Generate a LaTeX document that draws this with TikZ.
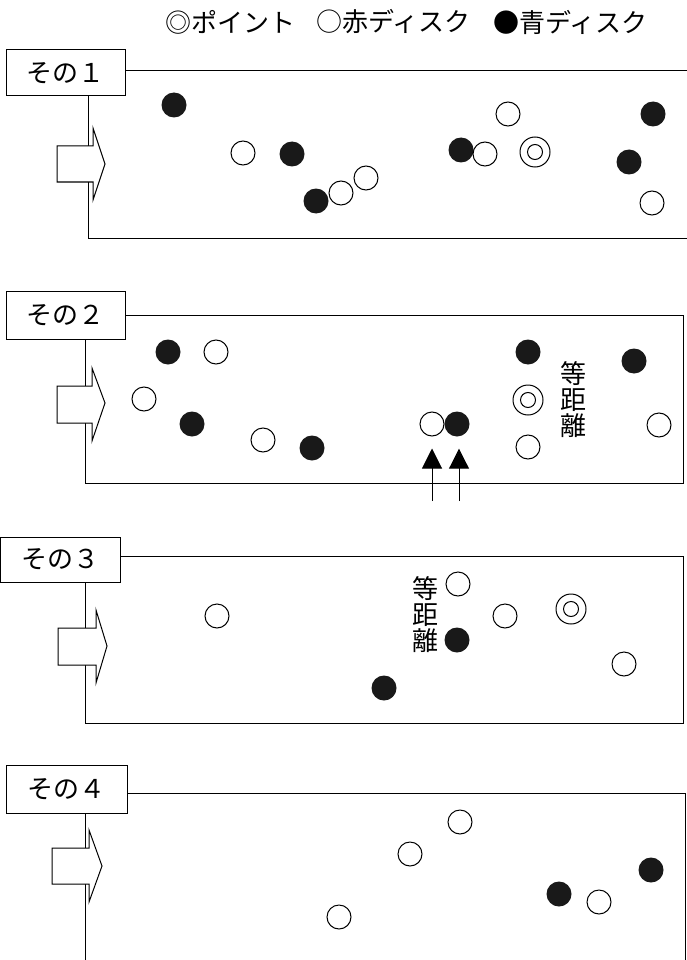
\documentclass[tikz,border=0pt]{standalone}
\usepackage{fontspec}
\setmainfont{Noto Sans CJK JP}
\usetikzlibrary{arrows.meta}
\begin{document}
\begin{tikzpicture}[x=1pt,y=-1pt,
  panel/.style={draw, line width=1pt},
  labelbox/.style={draw, fill=white, line width=1pt, inner sep=0, font=\fontsize{26}{26}\selectfont},
  reddisk/.style={circle, draw, fill=white, line width=1pt, minimum size=24pt, inner sep=0},
  bluedisk/.style={circle, fill=black!90, minimum size=25pt, inner sep=0},
  pointdisk/.style={circle, draw, fill=white, line width=1pt, minimum size=30pt, inner sep=0},
  entry/.style={anchor=west, inner sep=0, font=\fontsize{26}{26}\selectfont},
  vtext/.style={align=center, inner sep=0, font=\fontsize{26}{26}\selectfont},
  bigarrow/.style={draw, fill=white, line width=1pt, line join=miter},
  push/.style={-{Triangle[width=20pt,length=20pt]}, line width=1pt}
]
\useasboundingbox (0,0) rectangle (686,960);

% legend
\node[entry] (lg1) at (165,22) {◎ポイント};
\node[entry] (lg2) at (316,22) {○赤ディスク};
\node[entry] (lg3) at (493,22) {●青ディスク};

% ---------- panel 1
\draw[panel] (690,71) -- (88,71) -- (88,238) -- (690,238);
\draw[bigarrow] (57,146) -- (93,146) -- (93,128) -- (105,164) -- (93,200) -- (93,182) -- (57,182) -- cycle;
\node[labelbox, minimum width=119pt, minimum height=46pt] (lab1) at (65.5,73) {その１};
\node[bluedisk] (b1a) at (174,105) {};
\node[reddisk] (r1a) at (243,153) {};
\node[bluedisk] (b1b) at (292,154) {};
\node[bluedisk] (b1c) at (316,201) {};
\node[reddisk] (r1b) at (341,193) {};
\node[reddisk] (r1c) at (366,178) {};
\node[reddisk] (r1d) at (508,114) {};
\node[bluedisk] (b1d) at (461,150) {};
\node[reddisk] (r1e) at (485,154) {};
\node[pointdisk] (p1) at (535,152) {};
\draw[line width=1pt] (p1.center) circle (7.5);
\node[bluedisk] (b1e) at (653,114) {};
\node[bluedisk] (b1f) at (629,162) {};
\node[reddisk] (r1f) at (652,203) {};

% ---------- panel 2
\draw[panel] (85,315) rectangle (683,483);
\draw[bigarrow] (57,386) -- (92,386) -- (92,368) -- (105,403) -- (92,441) -- (92,423) -- (57,423) -- cycle;
\node[labelbox, minimum width=119pt, minimum height=48pt] (lab2) at (65.5,315) {その２};
\node[bluedisk] (b2a) at (168,352) {};
\node[reddisk] (r2a) at (216,352) {};
\node[reddisk] (r2b) at (144,399) {};
\node[bluedisk] (b2b) at (192,424) {};
\node[reddisk] (r2c) at (263,440) {};
\node[bluedisk] (b2c) at (312,448) {};
\node[reddisk] (r2d) at (432,424) {};
\node[bluedisk] (b2d) at (457,424) {};
\node[bluedisk] (b2e) at (528,352) {};
\node[pointdisk] (p2) at (528,400) {};
\draw[line width=1pt] (p2.center) circle (7.5);
\node[reddisk] (r2e) at (528,447) {};
\node[vtext] (eq2) at (573,400) {等\\距\\離};
\node[bluedisk] (b2f) at (634,361) {};
\node[reddisk] (r2f) at (659,425) {};
\coordinate (s2a) at (432,501);
\coordinate (s2b) at (459,501);
\draw[push, shorten >=12pt] (s2a) -- (r2d.south);
\draw[push, shorten >=12pt] (s2b) -- (s2b |- b2d.south);

% ---------- panel 3
\draw[panel] (85,556) rectangle (683,723);
\draw[bigarrow] (58,628) -- (96,628) -- (96,610) -- (107,646) -- (96,683) -- (96,665) -- (58,665) -- cycle;
\node[labelbox, minimum width=120pt, minimum height=45pt] (lab3) at (60,559.5) {その３};
\node[reddisk] (r3a) at (217,616) {};
\node[reddisk] (r3b) at (458,584) {};
\node[vtext] (eq3) at (425,614.5) {等\\距\\離};
\node[bluedisk] (b3a) at (457,640) {};
\node[reddisk] (r3c) at (505,616) {};
\node[pointdisk] (p3) at (571,609) {};
\draw[line width=1pt] (p3.center) circle (7.5);
\node[reddisk] (r3d) at (624,664) {};
\node[bluedisk] (b3b) at (384,688) {};

% ---------- panel 4
\draw[panel] (85,965) -- (85,793) -- (685,793) -- (685,965);
\draw[bigarrow] (52,848) -- (89,848) -- (89,830) -- (102,866) -- (89,902) -- (89,884) -- (52,884) -- cycle;
\node[labelbox, minimum width=121pt, minimum height=48pt] (lab4) at (66.5,789) {その４};
\node[reddisk] (r4a) at (460,822) {};
\node[reddisk] (r4b) at (410,854) {};
\node[reddisk] (r4c) at (339,917) {};
\node[bluedisk] (b4a) at (559,894) {};
\node[reddisk] (r4d) at (599,902) {};
\node[bluedisk] (b4b) at (651,870) {};
\end{tikzpicture}
\end{document}
